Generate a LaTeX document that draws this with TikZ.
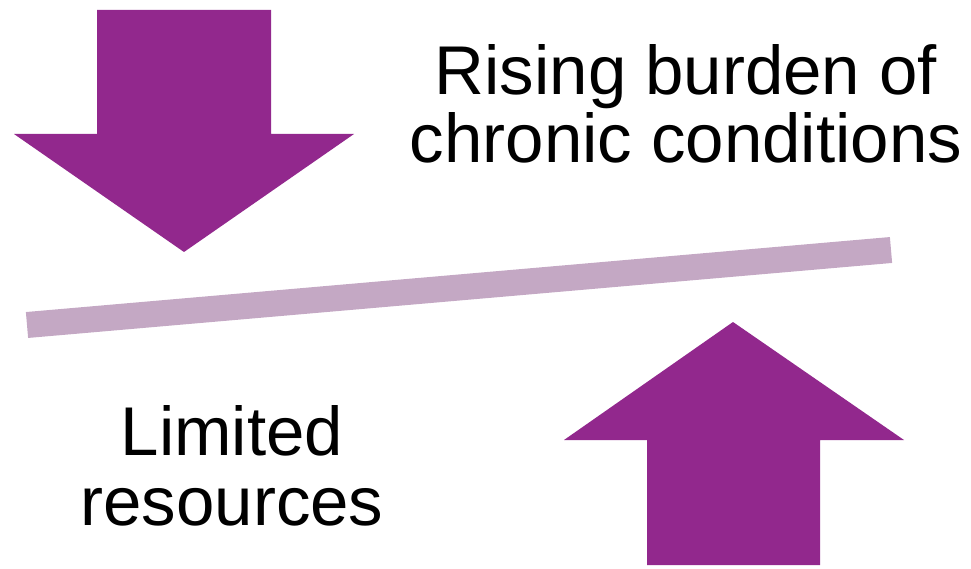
\documentclass[tikz,border=0pt]{standalone}
\usepackage{fontspec}
\setmainfont{Liberation Sans}
\usepackage{tikz}
\definecolor{plum}{RGB}{146,40,141}
\definecolor{mauve}{RGB}{196,168,196}
\tikzstyle{bigarrow}=[fill=plum, draw=none]
\tikzstyle{label}=[inner sep=0pt, anchor=base, font=\fontsize{69}{71}\selectfont]

\begin{document}
\begin{tikzpicture}[x=1pt, y=-1pt]
                \useasboundingbox (0, 0) rectangle (971, 569);
                \fill[bigarrow] (97, 10) -- (271, 10) -- (271, 134) -- (354, 134)
                    -- (184, 252) -- (14, 134) -- (97, 134) -- cycle;
                \fill[bigarrow] (647, 565) -- (820, 565) -- (820, 440) -- (904, 440)
                    -- (733, 322) -- (564, 440) -- (647, 440) -- cycle;
                \coordinate (l) at (27, 325);
                \coordinate (r) at (891, 250);
                \draw[mauve, line width=26pt] (l)--(r);
                \node[label] (rising) at (686, 95) {Rising burden of};
                \node[label] (chronic) at (686, 163) {chronic conditions};
                \node[label] (limited) at (232, 455) {Limited};
                \node[label] (resources) at (232, 525) {resources};
            \end{tikzpicture}
\end{document}
